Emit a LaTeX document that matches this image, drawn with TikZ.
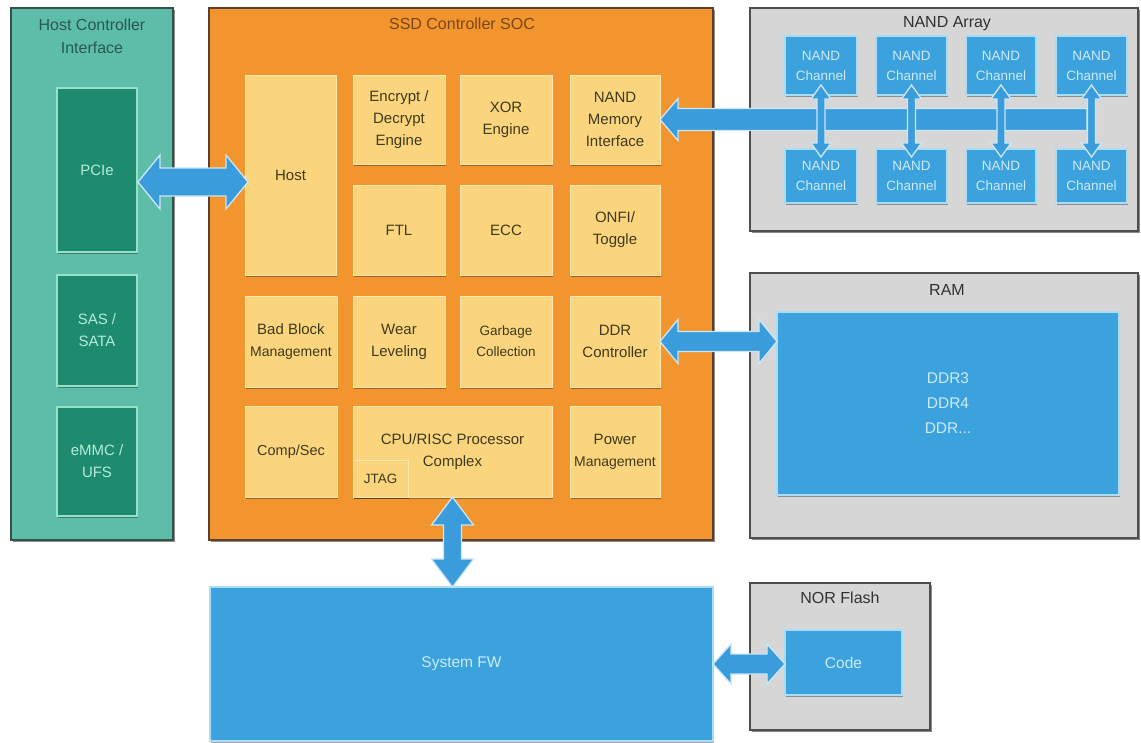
\documentclass[tikz,border=0pt]{standalone}
\usepackage{fontspec}
\setmainfont{Liberation Sans}
\usetikzlibrary{shadows,calc}
\definecolor{hcifill}{RGB}{94,189,169}
\definecolor{hciedge}{RGB}{52,82,74}
\definecolor{hcititle}{RGB}{40,88,78}
\definecolor{tealdark}{RGB}{30,138,110}
\definecolor{tealedge}{RGB}{150,226,200}
\definecolor{teallabel}{RGB}{180,236,216}
\definecolor{socfill}{RGB}{243,149,47}
\definecolor{socedge}{RGB}{92,64,44}
\definecolor{soctitle}{RGB}{120,72,24}
\definecolor{yfill}{RGB}{250,213,126}
\definecolor{yedge}{RGB}{253,232,178}
\definecolor{ytext}{RGB}{64,58,28}
\definecolor{grayfill}{RGB}{214,214,214}
\definecolor{grayedge}{RGB}{78,78,78}
\definecolor{graytitle}{RGB}{50,50,50}
\definecolor{bluefill}{RGB}{60,162,221}
\definecolor{blueedge}{RGB}{170,220,245}
\definecolor{bluetext}{RGB}{205,234,248}
\definecolor{arrowfill}{RGB}{58,156,218}
\definecolor{arrowedge}{RGB}{205,230,245}
\newcommand\bx[7]{\node[#1,minimum width={#4-#2},minimum height={#5-#3}] (#6) at ({(#2+#4)/2},{(#3+#5)/2}) {#7};}
% horizontal double arrow: #1 left tip, #2 right tip, #3 shaft half, #4 head half, #5 head length
\newcommand\hdarrow[5]{\draw[arr] let \p1=(#1), \p2=(#2) in
  (\x1,\y1) -- (\x1+#5pt,\y1+#4pt) -- (\x1+#5pt,\y1+#3pt) -- (\x2-#5pt,\y1+#3pt) -- (\x2-#5pt,\y1+#4pt)
  -- (\x2,\y1) -- (\x2-#5pt,\y1-#4pt) -- (\x2-#5pt,\y1-#3pt) -- (\x1+#5pt,\y1-#3pt) -- (\x1+#5pt,\y1-#4pt) -- cycle;}
% vertical double arrow: #1 top tip, #2 bottom tip
\newcommand\vdarrow[5]{\draw[arr] let \p1=(#1), \p2=(#2) in
  (\x1,\y1) -- (\x1+#4pt,\y1-#5pt) -- (\x1+#3pt,\y1-#5pt) -- (\x1+#3pt,\y2+#5pt) -- (\x1+#4pt,\y2+#5pt)
  -- (\x1,\y2) -- (\x1-#4pt,\y2+#5pt) -- (\x1-#3pt,\y2+#5pt) -- (\x1-#3pt,\y1-#5pt) -- (\x1-#4pt,\y1-#5pt) -- cycle;}
% single left-pointing arrow
\newcommand\larrow[5]{\draw[arr] let \p1=(#1), \p2=(#2) in
  (\x1,\y1) -- (\x1+#5pt,\y1+#4pt) -- (\x1+#5pt,\y1+#3pt) -- (\x2,\y1+#3pt) -- (\x2,\y1-#3pt)
  -- (\x1+#5pt,\y1-#3pt) -- (\x1+#5pt,\y1-#4pt) -- cycle;}
\begin{document}
\begin{tikzpicture}[x=1pt,y=-1pt,
  every node/.style={inner sep=0pt,outer sep=0pt,align=center},
  boxshadow/.style={drop shadow={shadow xshift=1.5pt,shadow yshift=-2pt,opacity=0.45,fill=black}},
  smallshadow/.style={drop shadow={shadow xshift=1pt,shadow yshift=-1.5pt,opacity=0.35,fill=black}},
  hci/.style={fill=hcifill,draw=hciedge,line width=1.5pt,boxshadow},
  tealbox/.style={fill=tealdark,draw=tealedge,line width=1.5pt,text=teallabel,font=\fontsize{15}{22}\selectfont,smallshadow},
  soc/.style={fill=socfill,draw=socedge,line width=1.5pt,boxshadow},
  ybox/.style={fill=yfill,draw=yedge,line width=0.8pt,text=ytext,font=\fontsize{15}{22}\selectfont,smallshadow},
  ysmall/.style={ybox,font=\fontsize{13.5}{21}\selectfont},
  graybox/.style={fill=grayfill,draw=grayedge,line width=1.5pt,boxshadow},
  bluebox/.style={fill=bluefill,draw=blueedge,line width=1.5pt,text=bluetext,font=\fontsize{15.5}{25}\selectfont,smallshadow},
  chan/.style={bluebox,font=\fontsize{13.5}{20}\selectfont},
  ttl/.style={font=\fontsize{16}{23}\selectfont},
  arr/.style={fill=arrowfill,draw=arrowedge,line width=1.3pt,line join=miter}]
\useasboundingbox (0,0) rectangle (1141,742);
\fill[white] (0,0) rectangle (1141,742);

% Host Controller Interface
\bx{hci}{11}{8}{173}{540}{hcibox}{}
\node[ttl,text=hcititle] (hcititle) at (92,36) {Host Controller\\Interface};
\bx{tealbox}{57}{88}{137}{252}{pcie}{PCIe}
\bx{tealbox}{57}{275}{137}{386}{sas}{SAS /\\SATA}
\bx{tealbox}{57}{407}{137}{516}{emmc}{eMMC /\\UFS}

% SSD Controller SOC
\bx{soc}{209}{8}{713}{540}{socbox}{}
\node[ttl,text=soctitle] (soctitle) at (462,24) {SSD Controller SOC};
\bx{ybox}{245}{75}{336}{275}{host}{Host}
\bx{ybox}{353}{75}{445}{164}{encrypt}{Encrypt /\\Decrypt\\Engine}
\bx{ybox}{460}{75}{552}{164}{xor}{XOR\\Engine}
\bx{ybox}{570}{75}{660}{164}{nandmi}{NAND\\Memory\\Interface}
\bx{ybox}{353}{185}{445}{275}{ftl}{FTL}
\bx{ybox}{460}{185}{552}{275}{ecc}{ECC}
\bx{ybox}{570}{185}{660}{275}{onfi}{ONFI/\\Toggle}
\bx{ybox}{245}{296}{337}{387}{badblock}{Bad Block\\{\fontsize{14}{22}\selectfont Management}}
\bx{ybox}{353}{296}{445}{387}{wear}{Wear\\Leveling}
\bx{ysmall}{460}{296}{552}{387}{garbage}{Garbage\\Collection}
\bx{ybox}{570}{296}{660}{387}{ddrc}{DDR\\Controller}
\bx{ybox}{245}{406}{337}{497}{comp}{\fontsize{14.5}{22}\selectfont Comp/Sec}
\bx{ybox}{353}{406}{552}{497}{cpu}{CPU/RISC Processor\\Complex}
\bx{ybox}{570}{406}{660}{497}{power}{Power\\{\fontsize{14}{22}\selectfont Management}}
\bx{ysmall}{353}{460}{408}{497}{jtag}{JTAG}

% NAND Array
\bx{graybox}{750}{8}{1138}{231}{nandarray}{}
\node[ttl,text=graytitle] (nandtitle) at (947,24) {NAND Array};
\bx{chan}{785}{36}{857}{95}{t1}{NAND\\Channel}
\bx{chan}{876}{36}{947}{95}{t2}{NAND\\Channel}
\bx{chan}{966}{36}{1036}{95}{t3}{NAND\\Channel}
\bx{chan}{1056}{36}{1127}{95}{t4}{NAND\\Channel}
\bx{chan}{785}{149}{857}{203}{b1}{NAND\\Channel}
\bx{chan}{876}{149}{947}{203}{b2}{NAND\\Channel}
\bx{chan}{966}{149}{1036}{203}{b3}{NAND\\Channel}
\bx{chan}{1056}{149}{1127}{203}{b4}{NAND\\Channel}

% RAM
\bx{graybox}{750}{273}{1138}{538}{ram}{}
\node[ttl,text=graytitle] (ramtitle) at (947,290) {RAM};
\bx{bluebox}{777}{312}{1119}{495}{ddr}{DDR3\\DDR4\\DDR...}

% System FW
\bx{bluebox}{210}{587}{713}{741}{fw}{System FW}

% NOR Flash
\bx{graybox}{750}{583}{930}{730}{nor}{}
\node[ttl,text=graytitle] (nortitle) at (840,598) {NOR Flash};
\bx{bluebox}{785}{630}{902}{695}{code}{Code}

% Arrows
\coordinate (pcieA) at ($(pcie.east)+(1,12)$);
\coordinate (hostA) at ($(host.west)+(3,7)$);
\hdarrow{pcieA}{hostA}{14}{27}{22}
\coordinate (busend) at (1087,121);
\larrow{nandmi.east}{busend}{11}{21}{18}
\foreach \i in {1,2,3,4}{
  \vdarrow{$(t\i.south)+(0,-10)$}{$(b\i.north)+(0,8)$}{4}{10}{14}
}
\hdarrow{ddrc.east}{ddr.west}{10}{22}{18}
\vdarrow{cpu.south}{fw.north}{9}{21}{28}
\hdarrow{fw.east}{code.west}{10}{20}{18}
\end{tikzpicture}
\end{document}
